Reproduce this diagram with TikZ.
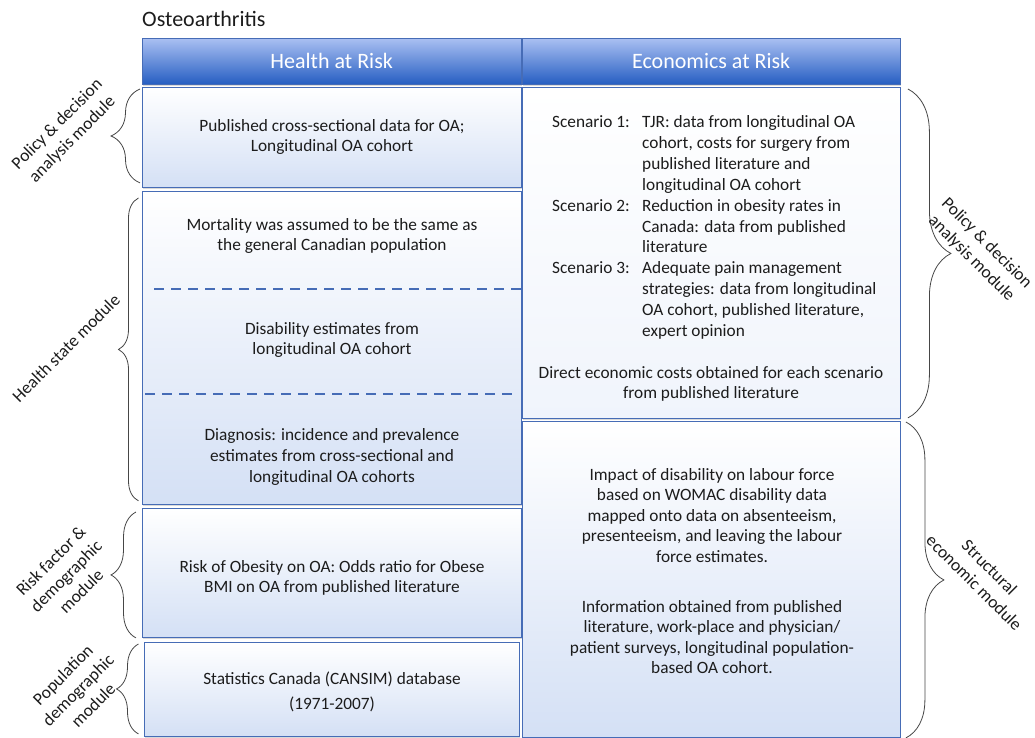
\documentclass[tikz,border=0pt]{standalone}
\usepackage{fontspec}
\setmainfont{Carlito}
\usepackage{tikz}
\usetikzlibrary{decorations.pathreplacing, shadows}
\definecolor{hdrtop}{RGB}{170,192,242}
\definecolor{hdrbot}{RGB}{38,94,194}
\definecolor{cellbot}{RGB}{212,224,245}
\definecolor{cellline}{RGB}{70,108,182}
\definecolor{ink}{RGB}{28,28,28}
\definecolor{brc}{RGB}{70,70,70}

\begin{document}
\begin{tikzpicture}[x=1pt, y=-1pt]
    \tikzstyle{hdr}    = [rectangle, anchor=north west, inner sep=0pt, draw=cellline, top color=hdrtop, bottom color=hdrbot, text=white, font=\fontsize{22}{26}\selectfont, drop shadow={opacity=.3, shadow xshift=1pt, shadow yshift=-2pt}]
    \tikzstyle{cell}   = [rectangle, anchor=north west, inner sep=0pt, draw=cellline, line width=.9pt, top color=white, bottom color=cellbot, drop shadow={opacity=.3, shadow xshift=1pt, shadow yshift=-2pt}]
    \tikzstyle{txt}    = [text=ink, align=center, inner sep=0pt, font=\fontsize{17.3}{20.6}\selectfont]
    \tikzstyle{sep}    = [draw=cellline, line width=2.6pt, dash pattern=on 10pt off 7pt]
    \tikzstyle{curly}  = [draw=brc, line width=.8pt, decorate]
    \tikzstyle{module} = [txt, font=\fontsize{17.5}{21.5}\selectfont]
    \useasboundingbox (0,0) rectangle (1035,738);
    \node (title) [txt, anchor=west, font=\fontsize{22}{26}\selectfont] at (142,19) {Osteoarthritis};
    \node (hh) [hdr, minimum width=379pt, minimum height=46pt] at (142,38) {Health at Risk};
    \node (eh) [hdr, minimum width=378pt, minimum height=46pt] at (522,38) {Economics at Risk};
    \node (b1) [cell, minimum width=379pt, minimum height=100pt] at (142,87) {};
    \node (b2) [cell, minimum width=379pt, minimum height=313pt] at (142,191) {};
    \node (b3) [cell, minimum width=379pt, minimum height=129pt] at (142,508) {};
    \node (b4) [cell, minimum width=375pt, minimum height=94pt] at (144,642) {};
    \node (r1) [cell, minimum width=378pt, minimum height=331pt, bottom color=cellbot!35] at (522,87) {};
    \node (r2) [cell, minimum width=378pt, minimum height=316pt] at (522,421) {};
    \draw[sep] (154,289) -- (521,289);
    \draw[sep] (145,394) -- (514,394);
    \node (t1) [txt] at (332,137) {Published cross-sectional data for OA;\\Longitudinal OA cohort};
    \node (t2) [txt] at (332,236) {Mortality was assumed to be the same as\\the general Canadian population};
    \node (t3) [txt] at (332,340) {Disability estimates from\\longitudinal OA cohort};
    \node (t4) [txt] at (332,457) {Diagnosis: incidence and prevalence\\estimates from cross-sectional and\\longitudinal OA cohorts};
    \node (t5) [txt] at (332,578) {Risk of Obesity on OA: Odds ratio for Obese\\BMI on OA from published literature};
    \node (t6) [txt] at (332,692) {Statistics Canada (CANSIM) database\\[4.4pt](1971-2007)};
    \node (sc) [txt, align=left, anchor=north west, font=\fontsize{17.3}{20.85}\selectfont] at (552,113) {%
        \begin{tabular}{@{}p{90pt}@{}l@{}}
        Scenario 1: & TJR: data from longitudinal OA\\
                    & cohort, costs for surgery from\\
                    & published literature and\\
                    & longitudinal OA cohort\\
        Scenario 2: & Reduction in obesity rates in\\
                    & Canada: data from published\\
                    & literature\\
        Scenario 3: & Adequate pain management\\
                    & strategies: data from longitudinal\\
                    & OA cohort, published literature,\\
                    & expert opinion
        \end{tabular}};
    \node (dc) [txt] at (711,384) {Direct economic costs obtained for each scenario\\from published literature};
    \node (lf) [txt] at (712,571) {Impact of disability on labour force\\based on WOMAC disability data\\mapped onto data on absenteeism,\\presenteeism, and leaving the labour\\force estimates.\\[29pt]Information obtained from published\\literature, work-place and physician/\\patient surveys, longitudinal population-\\based OA cohort.};
    \draw[curly, decoration={brace, amplitude=29pt}] ([xshift=-2pt, yshift=5pt]b1.south west) -- ([xshift=-2pt, yshift=-2pt]b1.north west);
    \draw[curly, decoration={brace, amplitude=20pt}] ([xshift=-3.5pt, yshift=4pt]b2.south west) -- ([xshift=-3.5pt, yshift=-7pt]b2.north west);
    \draw[curly, decoration={brace, amplitude=25pt}] ([xshift=-6pt, yshift=0pt]b3.south west) -- ([xshift=-6pt, yshift=-4pt]b3.north west);
    \draw[curly, decoration={brace, amplitude=22pt}] ([xshift=-5.5pt, yshift=3pt]b4.south west) -- ([xshift=-5.5pt, yshift=-2pt]b4.north west);
    \draw[curly, decoration={brace, amplitude=43pt}] ([xshift=7pt, yshift=-2pt]r1.north east) -- ([xshift=7pt, yshift=1pt]r1.south east);
    \draw[curly, decoration={brace, amplitude=38pt}] ([xshift=5pt, yshift=-1pt]r2.north east) -- ([xshift=5pt]r2.south east);
    \node (m1) [module, rotate=45] at (65,132) {Policy \& decision\\analysis module};
    \node (m2) [module, rotate=45] at (66,348) {Health state module};
    \node (m3) [module, rotate=45] at (66,576) {Risk factor \&\\demographic\\module};
    \node (m4) [module, rotate=45] at (78,690) {Population\\demographic\\module};
    \node (m5) [module, rotate=-45] at (979,251) {Policy \& decision\\analysis module};
    \node (m6) [module, rotate=-45] at (982,575) {Structural\\economic module};
\end{tikzpicture}
\end{document}
